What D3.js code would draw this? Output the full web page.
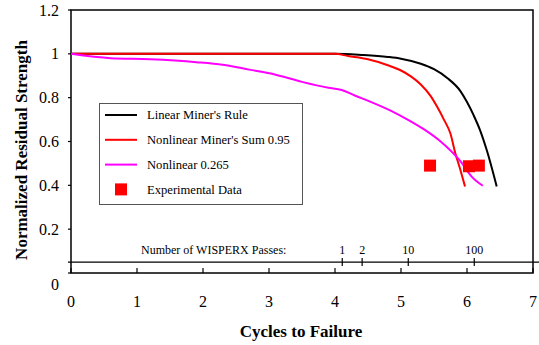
<!DOCTYPE html>
<html>
<head>
<meta charset="utf-8">
<script src="https://cdn.jsdelivr.net/npm/d3@7"></script>
<style>
    body { margin: 0; background: #fff; }
</style>
</head>
<body>
<script>
(function(){

//chart data
var linearMiner = [[0, 1], [4.0, 1.0], [4.4, 0.995], [4.8, 0.986], [5.0, 0.978], [5.3, 0.955], [5.5, 0.93],
    [5.7, 0.89], [5.9, 0.83], [6.0, 0.78], [6.1, 0.72], [6.2, 0.65], [6.3, 0.56], [6.45, 0.395]];
var nonlinearSum = [[0, 1], [4.0, 1.0], [4.2, 0.99], [4.5, 0.975], [4.8, 0.948], [5.0, 0.924], [5.15, 0.897],
    [5.3, 0.86], [5.45, 0.807], [5.55, 0.757], [5.65, 0.7], [5.75, 0.635], [5.82, 0.55], [5.9, 0.47], [5.97, 0.395]];
var nonlinear265 = [[0, 1.0], [0.6, 0.98], [1.2, 0.975], [1.9, 0.962], [2.3, 0.95], [2.7, 0.928], [3.1, 0.905],
    [3.5, 0.872], [3.9, 0.845], [4.1, 0.835], [4.3, 0.81], [4.55, 0.78], [4.85, 0.74], [5.1, 0.7], [5.35, 0.655],
    [5.6, 0.6], [5.9, 0.51], [6.07, 0.44], [6.24, 0.398]];
var experimental = [[5.44, 0.49], [6.03, 0.487], [6.18, 0.49]];

var xTicks = [0, 1, 2, 3, 4, 5, 6, 7];
var yTicks = [0, 0.2, 0.4, 0.6, 0.8, 1, 1.2];
var passTicks = [1, 2, 10, 100];
var passOffset = 4.11; //cycles value (log) that matches one WISPERX pass
var passLineLevel = 0.05;

var legendNames = ["Linear Miner's Rule", "Nonlinear Miner's Sum 0.95", "Nonlinear 0.265", "Experimental Data"];
var seriesColors = ["#000000", "#ff0000", "#ff00ff", "#ff0000"];

//svg frame
var width = 539,
    height = 345;

var svg = d3.select("body")
    .append("svg")
    .attr("width", width)
    .attr("height", height);

var x = d3.scaleLinear().domain([0, 7]).range([71, 533]);
var y = d3.scaleLinear().domain([0, 1.2]).range([273, 10]);

//log scale for the passes axis, lined up with the cycles axis
var xPass = d3.scaleLog()
    .domain([1, 100])
    .range([x(passOffset), x(passOffset + 2)]);

//helper for serif text
function addText(sel, size, bold){
    return sel.append("text")
        .attr("font-family", "Liberation Serif")
        .attr("font-size", size)
        .attr("font-weight", bold ? "bold" : "normal");
}

//plot border
svg.append("rect")
    .attr("x", x(0))
    .attr("y", y(1.2))
    .attr("width", x(7) - x(0))
    .attr("height", y(0) - y(1.2))
    .attr("fill", "none")
    .attr("stroke", "#000")
    .attr("stroke-width", 1.5);

//y axis ticks and labels
svg.selectAll(".yTick")
    .data(yTicks)
    .enter()
    .append("line")
    .attr("class", "yTick")
    .attr("x1", x(0) - 3)
    .attr("x2", x(0))
    .attr("y1", function(d){ return y(d); })
    .attr("y2", function(d){ return y(d); })
    .attr("stroke", "#000")
    .attr("stroke-width", 1.2);

yTicks.forEach(function(d){
    addText(svg, 16)
        .attr("x", 59)
        .attr("y", y(d) + (d === 0 ? 11 : 0))
        .attr("dy", "0.35em")
        .attr("text-anchor", "end")
        .text(d);
});

//x axis ticks (inside) and labels
svg.selectAll(".xTick")
    .data(xTicks)
    .enter()
    .append("line")
    .attr("class", "xTick")
    .attr("x1", function(d){ return x(d); })
    .attr("x2", function(d){ return x(d); })
    .attr("y1", y(0) - 5)
    .attr("y2", y(0))
    .attr("stroke", "#000")
    .attr("stroke-width", 1.2);

xTicks.forEach(function(d){
    addText(svg, 16)
        .attr("x", x(d))
        .attr("y", 307)
        .attr("text-anchor", "middle")
        .text(d);
});

//WISPERX passes axis
var passY = y(passLineLevel);
svg.append("line")
    .attr("x1", x(0) - 3)
    .attr("x2", width)
    .attr("y1", passY)
    .attr("y2", passY)
    .attr("stroke", "#000")
    .attr("stroke-width", 1.2);

svg.selectAll(".passTick")
    .data(passTicks)
    .enter()
    .append("line")
    .attr("class", "passTick")
    .attr("x1", function(d){ return xPass(d); })
    .attr("x2", function(d){ return xPass(d); })
    .attr("y1", passY - 4)
    .attr("y2", passY + 4)
    .attr("stroke", "#000")
    .attr("stroke-width", 1.2);

passTicks.forEach(function(d){
    addText(svg, 12)
        .attr("x", xPass(d))
        .attr("y", passY - 8)
        .attr("text-anchor", "middle")
        .text(d);
});

addText(svg, 12)
    .attr("x", 141)
    .attr("y", passY - 8)
    .text("Number of WISPERX Passes:");

//axis titles
addText(svg, 17, true)
    .attr("x", 301)
    .attr("y", 337)
    .attr("text-anchor", "middle")
    .text("Cycles to Failure");

addText(svg, 17, true)
    .attr("transform", "translate(27,150) rotate(-90)")
    .attr("text-anchor", "middle")
    .text("Normalized Residual Strength");

//curves
var line = d3.line()
    .x(function(d){ return x(d[0]); })
    .y(function(d){ return y(d[1]); })
    .curve(d3.curveMonotoneX);

var curves = [linearMiner, nonlinearSum, nonlinear265];
svg.selectAll(".curve")
    .data(curves)
    .enter()
    .append("path")
    .attr("class", "curve")
    .attr("d", line)
    .attr("fill", "none")
    .attr("stroke", function(d, i){ return seriesColors[i]; })
    .attr("stroke-width", 2);

//experimental points
svg.selectAll(".expPoint")
    .data(experimental)
    .enter()
    .append("rect")
    .attr("class", "expPoint")
    .attr("x", function(d){ return x(d[0]) - 6; })
    .attr("y", function(d){ return y(d[1]) - 6; })
    .attr("width", 12)
    .attr("height", 12)
    .attr("fill", seriesColors[3]);

//legend
var legend = svg.append("g")
    .attr("class", "legend");

legend.append("rect")
    .attr("x", 99.5)
    .attr("y", 103.5)
    .attr("width", 203)
    .attr("height", 101)
    .attr("fill", "#fff")
    .attr("stroke", "#555")
    .attr("stroke-width", 1);

legendNames.forEach(function(name, i){
    var rowY = 115 + i * 24.8;
    if (i < 3){
        legend.append("line")
            .attr("x1", 105)
            .attr("x2", 137)
            .attr("y1", rowY)
            .attr("y2", rowY)
            .attr("stroke", seriesColors[i])
            .attr("stroke-width", 2);
    } else {
        legend.append("rect")
            .attr("x", 115)
            .attr("y", rowY - 6)
            .attr("width", 12)
            .attr("height", 12)
            .attr("fill", seriesColors[i]);
    }
    addText(legend, 12.6)
        .attr("x", 147)
        .attr("y", rowY)
        .attr("dy", "0.35em")
        .text(name);
});

})();
</script>
</body>
</html>
